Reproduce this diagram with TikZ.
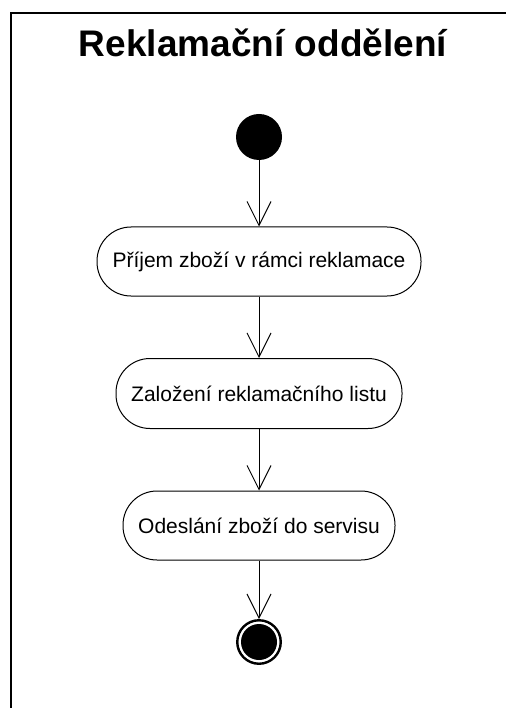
\documentclass[tikz,border=0pt]{standalone}
\usepackage{fontspec}
\setmainfont{Liberation Sans}
\usetikzlibrary{arrows.meta}
\begin{document}
\begin{tikzpicture}[x=1pt,y=-1pt,
  action/.style={draw, line width=1pt, rectangle, rounded corners=34pt, inner sep=0pt,
    font=\fontsize{21}{25}\selectfont},
  flow/.style={line width=1pt, -{Straight Barb[length=24pt,width=24pt,line width=1pt]}},
  frameline/.style={line width=2pt}]
\useasboundingbox (0,0) rectangle (505,708);
\draw[frameline] (510,13) -- (11,13) -- (11,712);
\node[anchor=base, font=\fontsize{37}{44}\selectfont\bfseries] (title) at (263,57) {Reklamační oddělení};
\node[circle, fill=black, minimum size=46pt, inner sep=0pt] (start) at (259,137) {};
\node[action, minimum width=324pt, minimum height=69pt] (a1) at (259,261.5) {Příjem zboží v rámci reklamace};
\node[action, minimum width=286pt, minimum height=70pt] (a2) at (259,393.5) {Založení reklamačního listu};
\node[action, minimum width=272pt, minimum height=69pt] (a3) at (259,525.5) {Odeslání zboží do servisu};
\node[circle, draw, line width=2.4pt, minimum size=43.5pt, inner sep=0pt,
  path picture={\fill[black] (path picture bounding box.center) circle (18pt);}] (end) at (259,642) {};
\draw[flow] (start) -- (a1);
\draw[flow] (a1) -- (a2);
\draw[flow] (a2) -- (a3);
\draw[flow] (a3) -- (end);
\end{tikzpicture}
\end{document}
